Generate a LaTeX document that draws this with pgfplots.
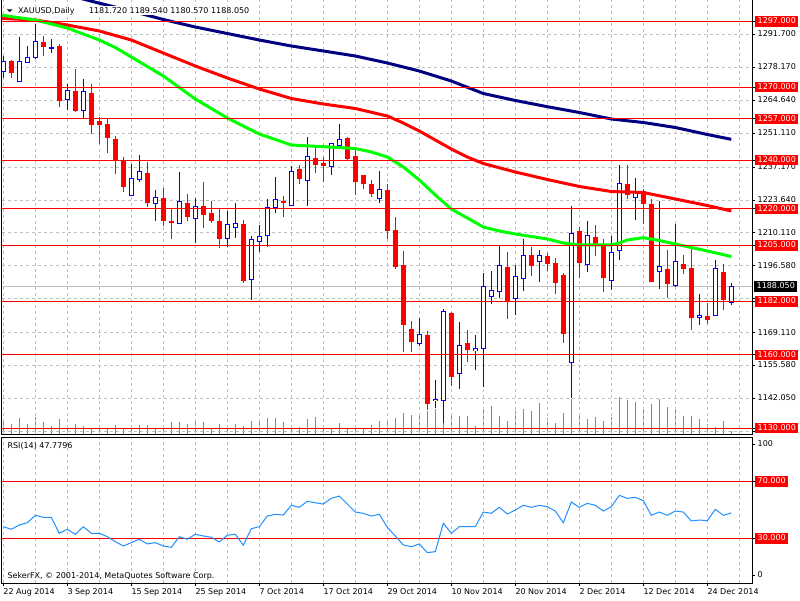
\documentclass[border=0pt]{standalone}
\usepackage{fontspec}
\setmainfont{DejaVu Sans}
\usepackage{pgfplots}
\usepackage{pgfplotstable}
\pgfplotsset{compat=1.18}
\definecolor{mtblue}{RGB}{0,0,255}
\definecolor{mtred}{RGB}{255,0,0}
\definecolor{mtgreen}{RGB}{0,255,0}
\definecolor{mtnavy}{RGB}{0,0,128}
\definecolor{mtgrid}{RGB}{192,192,192}
\definecolor{mtvol}{RGB}{119,136,153}
\definecolor{mtrsi}{RGB}{30,144,255}

\pgfplotstableread{
i o h l c
0 1276.34 1282.79 1273.63 1280.45
2 1272.40 1290.72 1272.20 1280.45
3 1280.04 1286.90 1279.79 1282.26
4 1282.09 1295.93 1281.56 1288.95
6 1286.20 1289.65 1284.15 1286.36
8 1265.01 1271.29 1260.62 1268.83
10 1260.33 1273.35 1256.80 1268.42
16 1225.71 1238.44 1225.42 1232.57
17 1231.99 1242.13 1230.92 1235.44
19 1222.30 1227.76 1215.03 1224.76
22 1213.92 1235.15 1213.70 1223.12
24 1216.14 1224.35 1205.87 1220.90
28 1207.76 1219.14 1204.47 1213.39
29 1212.44 1222.55 1208.17 1214.09
31 1190.92 1208.87 1182.59 1207.23
32 1206.53 1213.39 1202.42 1208.87
33 1208.99 1224.06 1204.47 1220.66
34 1220.66 1232.98 1218.44 1223.94
36 1221.31 1237.62 1221.10 1235.44
38 1231.58 1249.40 1221.19 1241.60
41 1237.33 1246.90 1234.04 1246.65
42 1246.12 1254.87 1244.72 1248.58
47 1224.19 1235.56 1222.30 1228.05
52 1164.80 1175.19 1163.69 1168.62
54 1141.39 1149.73 1138.11 1141.93
55 1141.39 1178.89 1131.95 1177.94
57 1152.48 1173.55 1146.16 1163.98
59 1161.76 1168.21 1153.84 1162.46
60 1162.75 1193.80 1146.98 1188.21
61 1184.10 1194.50 1181.07 1186.57
62 1186.00 1204.76 1183.41 1196.84
64 1183.29 1196.96 1176.43 1192.32
65 1191.50 1207.64 1186.41 1200.94
67 1198.48 1203.12 1190.10 1200.94
71 1157.00 1221.19 1142.22 1209.98
73 1197.25 1215.03 1194.21 1209.16
76 1190.68 1208.87 1186.82 1202.18
77 1203.00 1238.03 1199.14 1230.51
79 1224.76 1232.57 1215.57 1227.23
82 1194.37 1223.37 1187.23 1196.43
84 1188.46 1213.92 1188.05 1198.48
87 1175.60 1185.05 1172.44 1176.14
89 1176.30 1199.01 1176.10 1195.60
91 1181.72 1189.54 1180.57 1188.05
}\bull

\pgfplotstableread{
i o h l c
1 1280.74 1281.15 1273.88 1275.93
5 1288.54 1291.01 1282.92 1286.61
7 1286.90 1287.60 1261.97 1264.72
9 1268.42 1277.45 1259.92 1260.62
11 1267.60 1271.29 1250.76 1254.58
12 1256.10 1257.86 1246.65 1254.58
13 1254.87 1257.33 1243.08 1249.24
14 1248.71 1249.94 1234.33 1239.96
15 1239.96 1241.31 1226.94 1229.12
18 1234.74 1239.26 1220.78 1222.83
20 1224.48 1228.58 1213.10 1215.15
21 1214.91 1220.37 1207.76 1214.74
23 1222.42 1226.12 1215.15 1216.80
25 1221.07 1231.05 1212.03 1217.62
26 1218.32 1223.37 1214.09 1215.44
27 1215.03 1219.83 1204.07 1207.64
30 1213.39 1215.44 1189.69 1190.80
35 1223.24 1225.30 1216.80 1222.55
37 1236.26 1238.03 1230.22 1232.28
39 1240.49 1245.13 1234.87 1238.03
40 1238.56 1241.19 1231.17 1237.74
43 1248.71 1249.40 1240.08 1240.49
44 1241.72 1244.48 1225.71 1231.17
45 1233.63 1233.92 1228.17 1230.35
46 1230.22 1231.87 1224.76 1226.41
48 1227.76 1230.22 1207.64 1211.33
49 1211.33 1216.80 1195.32 1196.26
50 1196.96 1202.83 1161.23 1172.73
51 1170.27 1173.84 1161.23 1165.34
53 1167.80 1169.85 1137.41 1139.88
56 1176.84 1177.78 1147.39 1151.37
58 1164.93 1170.27 1157.25 1162.18
63 1196.14 1202.42 1174.78 1181.89
66 1200.94 1204.23 1192.57 1196.67
68 1200.53 1201.76 1194.62 1197.49
69 1197.78 1199.83 1185.05 1189.69
70 1192.85 1193.67 1165.05 1168.83
72 1210.51 1212.69 1191.62 1197.91
74 1208.05 1213.39 1200.66 1204.89
75 1205.46 1207.64 1186.00 1191.75
78 1230.22 1238.03 1224.06 1226.00
80 1227.06 1228.05 1213.92 1222.13
81 1221.89 1223.94 1189.90 1190.10
83 1195.32 1203.24 1183.53 1189.28
85 1197.37 1201.07 1193.26 1195.44
86 1195.32 1203.65 1170.27 1175.32
88 1176.02 1181.48 1172.85 1174.50
90 1193.96 1197.37 1178.48 1182.71
}\bear

\pgfplotstableread{
i v
0 13.5
1 10
2 16
3 10
4 16.5
5 11.5
6 7.5
7 15
8 7.5
9 10
10 7.5
11 6
12 7.5
13 6
14 8.5
15 6
16 6
17 8.5
18 8.5
19 6
20 6
21 11.5
22 11.5
23 9.5
24 13.5
25 11.5
26 6
27 9.5
28 6
29 9.5
30 8
31 13.3
32 13.3
33 16
34 16
35 12.3
36 6
37 7.3
38 15.3
39 17.3
40 6
41 6
42 11.3
43 6
44 6
45 5.5
46 9.3
47 13.3
48 12.3
49 15.6
50 21.3
51 19.3
52 20.6
53 23.3
54 25
55 23.3
56 21.3
57 18.3
58 18.3
59 8.3
60 27.3
61 28.3
62 18.3
63 13.3
64 23.3
65 25
66 22.6
67 31.3
68 15.6
69 10.6
70 21.3
71 35
72 20.6
73 15.3
74 16.6
75 12.6
76 17.3
77 37.3
78 34.3
79 32.3
80 26.6
81 30
82 35.3
83 26.6
84 26.6
85 18.3
86 18.3
87 15.3
88 10
89 7.3
90 13.3
91 2.6
}\vol

\pgfplotstableread{
i r
0 38.1
1 36.3
2 39.3
3 40.9
4 46.1
5 44.7
6 44.7
7 33.5
8 36.3
9 32.8
10 38.1
11 33.5
12 33.5
13 31.1
14 27.6
15 24.6
16 26.9
17 29.3
18 26.0
19 26.9
20 24.6
21 23.6
22 31.1
23 29.3
24 32.8
25 31.6
26 30.7
27 27.4
28 32.1
29 32.8
30 25.1
31 36.7
32 38.1
33 45.6
34 46.8
35 46.3
36 53.1
37 51.7
38 55.9
39 54.9
40 54.0
41 58.0
42 59.6
43 54.0
44 48.4
45 47.5
46 45.6
47 46.8
48 37.7
49 31.6
50 25.3
51 24.1
52 26.0
53 19.9
54 20.6
55 40.5
56 33.5
57 38.1
58 38.1
59 38.1
60 48.4
61 47.5
62 51.7
63 47.0
64 49.8
65 53.1
66 51.7
67 53.1
68 52.1
69 49.1
70 40.9
71 55.4
72 51.7
73 54.5
74 53.1
75 49.1
76 52.1
77 60.1
78 58.0
79 58.7
80 56.4
81 46.1
82 48.4
83 46.1
84 49.1
85 48.4
86 42.1
87 42.8
88 42.3
89 50.3
90 46.1
91 47.78
}\rsi

\pgfplotsset{
  mtaxis/.style={
    scale only axis, width=750pt, anchor=south west,
    xmin=-0.1625, xmax=93.5875,
    axis line style={line width=1pt, black},
    tick align=outside, major tick length=3pt, minor tick length=0pt,
    ytick pos=right, yticklabel pos=right,
    ytick style={line width=1pt, black},
    tick label style={font=\fontsize{8}{9.6}\selectfont},
    yticklabel style={anchor=west, inner xsep=2.5pt, inner ysep=1.5pt, text height=6pt, text depth=1.5pt},
    grid style={mtgrid, dash pattern=on 3pt off 3pt, line width=1pt},
    /pgf/number format/assume math mode=true,
  },
}
\tikzset{
  lbl/.style={fill=#1, text=white, anchor=west, font=\fontsize{8}{9.6}\selectfont, inner xsep=2.5pt, inner ysep=1.5pt, text height=6pt, text depth=1.5pt},
  hdr/.style={anchor=base west, fill=white, inner xsep=0.5pt, inner ysep=0pt, text height=7.5pt, text depth=2pt, font=\fontsize{8}{9.6}\selectfont},
}

\begin{document}
\begin{tikzpicture}[x=1pt,y=1pt]
\fill[white] (0,0) rectangle (800,600);
\useasboundingbox (0,0) rectangle (800,600);

% volume
\begin{axis}[mtaxis, at={(2pt,166pt)}, height=434pt, ymin=0, ymax=434, hide axis]
\addplot[ycomb, mtvol, line width=1pt] table[x=i,y=v]{\vol};
\end{axis}

% price
\begin{axis}[mtaxis, at={(2pt,166pt)}, height=434pt,
  ymin=1127.55, ymax=1305.79,
  xtick={0,4,...,92}, xticklabels={}, xtick style={draw=none}, xmajorgrids,
  ytick={1291.70,1278.17,1264.64,1251.11,1237.17,1223.64,1210.11,1196.58,1183.05,1169.11,1155.58,1142.05,1128.52},
  yticklabels={1291.700,1278.170,1264.640,1251.110,1237.170,1223.640,1210.110,1196.580,,1169.110,1155.580,1142.050,},
  ymajorgrids,
  extra y ticks={1297,1270,1257,1240,1220,1205,1182,1160,1130},
  extra y tick labels={1297.000,1270.000,1257.000,1240.000,1220.000,1205.000,1182.000,1160.000,1130.000},
  extra y tick style={grid=none, yticklabel style={fill=mtred, text=white}},
]
\addplot[mtgrid, line width=1pt] coordinates {(-1,1188.05) (95,1188.05)};
% wicks
\addplot[draw=none, error bars/.cd, y dir=both, y explicit, error mark=none,
  error bar style={draw=mtblue, line width=1pt}]
  table[x=i, y expr={(\thisrow{h}+\thisrow{l})/2}, y error expr={(\thisrow{h}-\thisrow{l})/2}]{\bull};
\addplot[draw=none, error bars/.cd, y dir=both, y explicit, error mark=none,
  error bar style={draw=mtred, line width=1pt}]
  table[x=i, y expr={(\thisrow{h}+\thisrow{l})/2}, y error expr={(\thisrow{h}-\thisrow{l})/2}]{\bear};
% bodies
\addplot[draw=none, error bars/.cd, y dir=both, y explicit, error mark=none,
  error bar style={draw=mtred, line width=5pt}]
  table[x=i, y expr={(\thisrow{o}+\thisrow{c})/2}, y error expr={(\thisrow{o}-\thisrow{c})/2+0.205}]{\bear};
\addplot[draw=none, error bars/.cd, y dir=both, y explicit, error mark=none,
  error bar style={draw=mtblue, line width=5pt}]
  table[x=i, y expr={(\thisrow{o}+\thisrow{c})/2}, y error expr={(\thisrow{c}-\thisrow{o})/2+0.205}]{\bull};
\addplot[draw=none, error bars/.cd, y dir=both, y explicit, error mark=none,
  error bar style={draw=white, line width=3pt}]
  table[x=i, y expr={(\thisrow{o}+\thisrow{c})/2}, y error expr={max((\thisrow{c}-\thisrow{o})/2-0.205,0)}]{\bull};
% moving averages
\addplot[mtnavy, line width=3pt, line join=round] coordinates {(9,1307.02) (12,1304.48) (16,1301.27) (20,1297.78) (24,1294.70) (28,1292.03) (32,1289.36) (36,1286.90) (40,1284.85) (44,1282.79) (48,1279.92) (52,1276.63) (56,1272.52) (60,1267.39) (64,1264.52) (68,1261.97) (72,1259.59) (76,1256.92) (80,1255.48) (84,1253.43) (88,1250.55) (91,1248.58)};
\addplot[mtred, line width=3pt, line join=round] coordinates {(-1,1298.6) (0,1298.19) (4,1297.58) (8,1295.52) (12,1293.06) (16,1289.36) (20,1284.02) (24,1278.69) (28,1273.76) (32,1269.24) (36,1265.34) (40,1263.08) (44,1261.23) (48,1258.15) (50,1255.28) (52,1251.99) (54,1248.29) (56,1244.60) (58,1241.31) (60,1238.64) (64,1235.15) (68,1232.07) (72,1229.20) (76,1227.14) (80,1226.73) (84,1224.06) (88,1221.39) (91,1219.14)};
\addplot[mtgreen, line width=3pt, line join=round] coordinates {(-1,1299.9) (0,1299.42) (4,1297.58) (8,1294.29) (12,1289.36) (14,1286.28) (16,1282.38) (20,1274.58) (24,1265.13) (28,1257.33) (32,1250.76) (36,1246.24) (40,1245.54) (44,1244.80) (46,1243.37) (48,1241.31) (50,1237.21) (52,1231.87) (54,1225.71) (56,1219.96) (58,1216.26) (60,1212.57) (62,1210.92) (64,1209.69) (66,1208.66) (68,1207.64) (70,1205.99) (72,1205.17) (74,1205.17) (76,1205.17) (77,1205.99) (78,1207.23) (80,1208.17) (82,1207.02) (84,1205.58) (86,1204.15) (88,1202.71) (91,1200.45)};
% level lines
\pgfplotsinvokeforeach{1297,1270,1257,1240,1220,1205,1182,1160,1130}{
  \addplot[mtred, line width=1pt] coordinates {(-1,#1) (95,#1)};
}
\coordinate (bid) at (axis cs:93.5875,1188.05);
\end{axis}

% RSI
\begin{axis}[mtaxis, at={(2pt,17pt)}, height=146pt, ymin=-1.40, ymax=101.05,
  xtick={0,8,...,88},
  xticklabels={22 Aug 2014,3 Sep 2014,15 Sep 2014,25 Sep 2014,7 Oct 2014,17 Oct 2014,29 Oct 2014,10 Nov 2014,20 Nov 2014,2 Dec 2014,12 Dec 2014,24 Dec 2014},
  xtick pos=left, xtick style={line width=1pt, black}, xmajorgrids,
  minor xtick={4,12,...,92}, xminorgrids,
  xticklabel style={anchor=north west, inner sep=0pt, yshift=-2.3pt},
  ytick={3.7,96.1}, yticklabels={0,100},
  extra y ticks={30,70}, extra y tick labels={30.000,70.000},
  extra y tick style={grid=none, yticklabel style={fill=mtred, text=white}},
]
\addplot[mtred, line width=1pt] coordinates {(-1,70) (95,70)};
\addplot[mtred, line width=1pt] coordinates {(-1,30) (95,30)};
\addplot[mtrsi, line width=1pt] table[x=i,y=r]{\rsi};
\end{axis}

\node[lbl=black] at ([xshift=2pt]bid) {1188.050};

\node[hdr] at (17.3,586.5) {XAUUSD,Daily};
\node[hdr] at (88.3,586.5) {1181.720 1189.540 1180.570 1188.050};
\fill[black] (6.7,590.7) -- (12.7,590.7) -- (9.7,588) -- cycle;
\node[anchor=base west, inner sep=0pt, font=\fontsize{8}{9.6}\selectfont] at (7.3,151.5) {RSI(14) 47.7796};
\node[anchor=base west, inner sep=0pt, font=\fontsize{8}{9.6}\selectfont] at (7.3,22) {SekerFX, © 2001-2014, MetaQuotes Software Corp.};
\end{tikzpicture}
\end{document}
